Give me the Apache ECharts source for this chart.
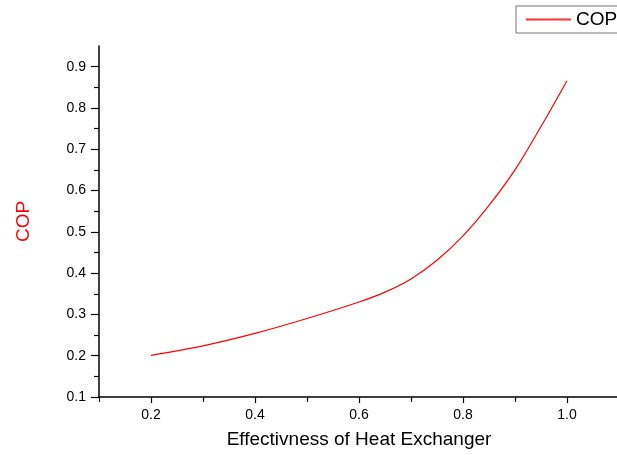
<!DOCTYPE html>
<html>
<head>
<meta charset="utf-8">
<script src="https://cdn.jsdelivr.net/npm/echarts@6/dist/echarts.min.js"></script>
<style>
html,body{margin:0;padding:0;background:#fff;}
#chart{width:617px;height:455px;}
</style>
</head>
<body>
<div id="chart"></div>
<script>
var effectiveness = [0.2, 0.3, 0.4, 0.5, 0.6, 0.65, 0.7, 0.75, 0.8, 0.85, 0.9, 0.95, 1.0];
var cop = [0.201, 0.224, 0.254, 0.290, 0.330, 0.354, 0.386, 0.431, 0.490, 0.564, 0.650, 0.755, 0.866];
var xMajorTicks = [0.2, 0.4, 0.6, 0.8, 1.0];
var xMinorTicks = [0.1, 0.3, 0.5, 0.7, 0.9, 1.1];
var yMajorTicks = [0.1, 0.2, 0.3, 0.4, 0.5, 0.6, 0.7, 0.8, 0.9];
var yMinorTicks = [0.15, 0.25, 0.35, 0.45, 0.55, 0.65, 0.75, 0.85];

var FONT = '"Liberation Sans", Arial, sans-serif';
var chart = echarts.init(document.getElementById('chart'), null, {renderer: 'canvas'});
var points = effectiveness.map(function (x, i) { return [x, cop[i]]; });
var fmt = function (v) { return Number(v).toFixed(1); };

chart.setOption({
  animation: false,
  backgroundColor: '#fff',
  color: ['#ff0000'],
  grid: {left: 99, top: 46, bottom: 58, width: 520, containLabel: false, outerBoundsMode: 'none'},
  legend: {
    left: 516, top: 6,
    padding: [4, 10, 4, 5],
    icon: 'none',
    itemWidth: 0, itemHeight: 14, itemGap: 5,
    borderColor: '#777', borderWidth: 1,
    formatter: function (name) { return '{l|}{t|' + name + '}'; },
    textStyle: {
      fontFamily: FONT, fontSize: 19, color: '#000',
      rich: {
        l: {width: 45, height: 2, backgroundColor: '#ff3030', verticalAlign: 'middle'},
        t: {fontFamily: FONT, fontSize: 19, color: '#000', padding: [0, 0, 0, 5], verticalAlign: 'middle'}
      }
    },
    data: ['COP']
  },
  xAxis: [{
    type: 'value', min: 0.1, max: 1.1,
    name: 'Effectivness of Heat Exchanger', nameLocation: 'middle', nameGap: 33,
    nameTextStyle: {fontFamily: FONT, fontSize: 19, color: '#000'},
    axisLine: {show: true, onZero: false, lineStyle: {color: '#000', width: 1.5}},
    axisTick: {show: true, inside: false, length: 6, customValues: xMajorTicks, lineStyle: {color: '#000', width: 1.2}},
    axisLabel: {customValues: xMajorTicks, formatter: fmt, margin: 11, fontFamily: FONT, fontSize: 14, color: '#000'},
    splitLine: {show: false}
  }, {
    type: 'value', min: 0.1, max: 1.1, position: 'bottom',
    axisLine: {show: false},
    axisTick: {show: true, length: 5, customValues: xMinorTicks, lineStyle: {color: '#000', width: 1.2}},
    axisLabel: {show: false},
    splitLine: {show: false}
  }],
  yAxis: [{
    type: 'value', min: 0.1, max: 0.95,
    name: 'COP', nameLocation: 'middle', nameGap: 66, nameRotate: 90,
    nameTextStyle: {fontFamily: FONT, fontSize: 19, color: '#ff0000'},
    axisLine: {show: true, onZero: false, lineStyle: {color: '#000', width: 1.5}},
    axisTick: {show: true, length: 8, customValues: yMajorTicks, lineStyle: {color: '#000', width: 1.2}},
    axisLabel: {customValues: yMajorTicks, formatter: fmt, margin: 13, fontFamily: FONT, fontSize: 14, color: '#000'},
    splitLine: {show: false}
  }, {
    type: 'value', min: 0.1, max: 0.95, position: 'left',
    axisLine: {show: false},
    axisTick: {show: true, length: 5, customValues: yMinorTicks, lineStyle: {color: '#000', width: 1.2}},
    axisLabel: {show: false},
    splitLine: {show: false}
  }],
  series: [{
    name: 'COP', type: 'line', data: points,
    smooth: 0.35, symbol: 'none', showSymbol: false,
    lineStyle: {color: '#ff0000', width: 1.2},
    itemStyle: {color: '#ff0000'}
  }]
});
</script>
</body>
</html>
